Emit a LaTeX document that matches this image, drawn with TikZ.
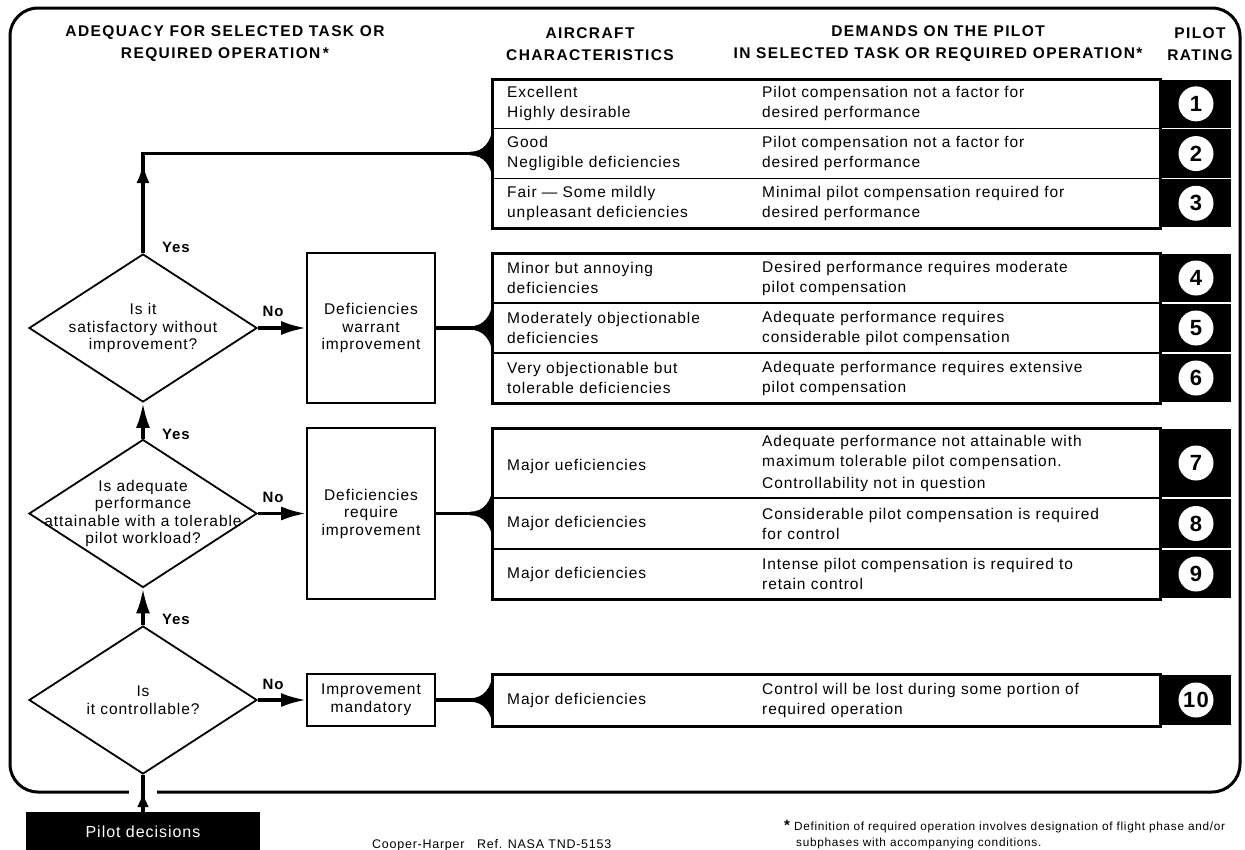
\documentclass[tikz,border=0pt]{standalone}
\usepackage{fontspec}
\setmainfont{Liberation Sans}[LetterSpace=6]
\newfontfamily\headfont{Liberation Sans}[LetterSpace=9]
\usepackage{tikz}
\usetikzlibrary{shapes, arrows, arrows.meta, positioning}

\begin{document}
\begin{tikzpicture}[x=1pt, y=-1pt, font=\fontsize{15.5}{20}\selectfont]
\tikzstyle{head} = [font=\headfont\bfseries\fontsize{15.5}{22}\selectfont, align=center, inner sep=0]
\tikzstyle{rowbox} = [rectangle, draw=black, line width=1.5pt, minimum width=668pt, inner sep=0, outer sep=0]
\tikzstyle{ratebox} = [rectangle, fill=black, draw=white, line width=1.5pt, minimum width=72pt, inner sep=0, outer sep=0]
\tikzstyle{ratenum} = [circle, fill=white, minimum size=35pt, inner sep=0, font=\bfseries\fontsize{22}{22}\selectfont]
\tikzstyle{celltext} = [align=left, inner sep=0]
\tikzstyle{question} = [diamond, draw=black, line width=1.8pt, minimum width=228pt, minimum height=148pt, inner sep=0]
\tikzstyle{qtext} = [align=center, inner sep=0, font=\fontsize{15.5}{17.5}\selectfont]
\tikzstyle{defbox} = [rectangle, draw=black, line width=1.8pt, minimum width=128pt, inner sep=0, align=center, font=\fontsize{15.5}{17.5}\selectfont]
\tikzstyle{decide} = [rectangle, fill=black, text=white, minimum width=234pt, minimum height=40pt, inner sep=0, font=\fontsize{16}{18}\selectfont]
\tikzstyle{grp} = [line width=3pt]
\tikzstyle{conn} = [line width=3.5pt]
\tikzstyle{arrow} = [line width=3.5pt, -{Latex[length=25pt, width=14pt]}]
\tikzstyle{yesno} = [font=\bfseries\fontsize{15}{15}\selectfont, inner sep=0]

\useasboundingbox (0,0) rectangle (1245,849);

% outer frame
\draw[grp, rounded corners=28pt] (10,8) rectangle (1240,792);
\fill[white] (129,785) rectangle (157,799);

% column heads
\node (hAdq) [head] at (225,44) {ADEQUACY FOR SELECTED TASK OR\\REQUIRED OPERATION\,*};
\node (hAir) [head] at (590,44) {AIRCRAFT\\CHARACTERISTICS};
\node (hDem) [head] at (938,44) {DEMANDS ON THE PILOT\\IN SELECTED TASK OR REQUIRED OPERATION*};
\node (hRat) [head] at (1200,44) {PILOT\\RATING};

% ratings 1-3
\node (r1) [rowbox, minimum height=49.7pt] at (826,103.85) {};
\node (r2) [rowbox, minimum height=49.7pt] at (826,153.55) {};
\node (r3) [rowbox, minimum height=49.7pt] at (826,203.25) {};
\node (a1) [celltext, right=15pt of r1.west] {Excellent\\Highly desirable};
\node (a2) [celltext, right=15pt of r2.west] {Good\\Negligible deficiencies};
\node (a3) [celltext, right=15pt of r3.west] {Fair — Some mildly\\unpleasant deficiencies};
\node (d1) [celltext, right=270pt of r1.west] {Pilot compensation not a factor for\\desired performance};
\node (d2) [celltext, right=270pt of r2.west] {Pilot compensation not a factor for\\desired performance};
\node (d3) [celltext, right=270pt of r3.west] {Minimal pilot compensation required for\\desired performance};
\node (p1) [ratebox, minimum height=49.7pt] at (1196,103.85) {};
\node (p2) [ratebox, minimum height=49.7pt] at (1196,153.55) {};
\node (p3) [ratebox, minimum height=49.7pt] at (1196,203.25) {};
\node (n1) [ratenum] at (p1) {1};
\node (n2) [ratenum] at (p2) {2};
\node (n3) [ratenum] at (p3) {3};
\draw[grp] (r1.north west) rectangle (r3.south east);

% ratings 4-6
\node (r4) [rowbox, minimum height=50pt] at (826,278) {};
\node (r5) [rowbox, minimum height=50pt] at (826,328) {};
\node (r6) [rowbox, minimum height=50pt] at (826,378) {};
\node (a4) [celltext, right=15pt of r4.west] {Minor but annoying\\deficiencies};
\node (a5) [celltext, right=15pt of r5.west] {Moderately objectionable\\deficiencies};
\node (a6) [celltext, right=15pt of r6.west] {Very objectionable but\\tolerable deficiencies};
\node (d4) [celltext, right=270pt of r4.west] {Desired performance requires moderate\\pilot compensation};
\node (d5) [celltext, right=270pt of r5.west] {Adequate performance requires\\considerable pilot compensation};
\node (d6) [celltext, right=270pt of r6.west] {Adequate performance requires extensive\\pilot compensation};
\node (p4) [ratebox, minimum height=50pt] at (1196,278) {};
\node (p5) [ratebox, minimum height=50pt] at (1196,328) {};
\node (p6) [ratebox, minimum height=50pt] at (1196,378) {};
\node (n4) [ratenum] at (p4) {4};
\node (n5) [ratenum] at (p5) {5};
\node (n6) [ratenum] at (p6) {6};
\draw[grp] (r4.north west) rectangle (r6.south east);

% ratings 7-9
\node (r7) [rowbox, minimum height=70pt] at (826,463) {};
\node (r8) [rowbox, minimum height=51pt] at (826,523.5) {};
\node (r9) [rowbox, minimum height=50pt] at (826,574) {};
\node (a7) [celltext, right=15pt of r7.west, yshift=-3pt] {Major ueficiencies};
\node (a8) [celltext, right=15pt of r8.west] {Major deficiencies};
\node (a9) [celltext, right=15pt of r9.west] {Major deficiencies};
\node (d7) [celltext, right=270pt of r7.west] {Adequate performance not attainable with\\maximum tolerable pilot compensation.\\[2pt]Controllability not in question};
\node (d8) [celltext, right=270pt of r8.west] {Considerable pilot compensation is required\\for control};
\node (d9) [celltext, right=270pt of r9.west] {Intense pilot compensation is required to\\retain control};
\node (p7) [ratebox, minimum height=70pt] at (1196,463) {};
\node (p8) [ratebox, minimum height=51pt] at (1196,523.5) {};
\node (p9) [ratebox, minimum height=50pt] at (1196,574) {};
\node (n7) [ratenum] at (p7) {7};
\node (n8) [ratenum] at (p8) {8};
\node (n9) [ratenum] at (p9) {9};
\draw[grp] (r7.north west) rectangle (r9.south east);

% rating 10
\node (r10) [rowbox, minimum height=52pt] at (826,700) {};
\node (a10) [celltext, right=15pt of r10.west] {Major deficiencies};
\node (d10) [celltext, right=270pt of r10.west] {Control will be lost during some portion of\\required operation};
\node (p10) [ratebox, minimum height=52pt] at (1196,700) {};
\node (n10) [ratenum] at (p10) {10};
\draw[grp] (r10.north west) rectangle (r10.south east);

% decision chain
\node (q1) [question] at (143,328) {};
\node (q2) [question] at (143,513.5) {};
\node (q3) [question] at (143,700) {};
\node (q1t) [qtext] at (q1) {Is it\\satisfactory without\\improvement?};
\node (q2t) [qtext] at (q2) {Is adequate\\performance\\attainable with a tolerable\\pilot workload?};
\node (q3t) [qtext] at (q3) {Is\\it controllable?};
\node (def1) [defbox, minimum height=150pt] at (371,328) {Deficiencies\\warrant\\improvement};
\node (def2) [defbox, minimum height=171pt] at (371,513.5) {Deficiencies\\require\\improvement};
\node (imp) [defbox, minimum height=52pt] at (371,700) {Improvement\\mandatory};
\node (pilot) [decide] at (143,832) {Pilot decisions};

\coordinate (jA) at (r2.west);
\coordinate (jB) at (r5.west);
\coordinate (jC) at (492,513.5);
\coordinate (jD) at (r10.west);
\coordinate (cA) at (143,153.55);
\coordinate (tA) at (143,163);
\coordinate (tP) at (143,792);

\draw[conn] (q1.north) -- (cA) -- (jA);
\draw[line width=3.5pt, -{Latex[length=20pt, width=13pt]}] (q1.north) -- (tA);
\draw[arrow] (q2.north) -- (q1.south);
\draw[arrow] (q3.north) -- (q2.south);
\draw[conn] (pilot.north) -- (q3.south);
\draw[line width=3.5pt, -{Latex[length=15pt, width=12pt]}] (pilot.north) -- (tP);

\draw[arrow] (q1.east) -- (def1.west);
\draw[arrow] (q2.east) -- (def2.west);
\draw[arrow] (q3.east) -- (imp.west);
\draw[conn] (def1.east) -- (jB);
\draw[conn] (def2.east) -- (jC);
\draw[conn] (imp.east) -- (jD);

% braces into the tables
\foreach \j in {jA, jB, jC, jD}
  \fill ([shift={(-22,-1.75)}]\j) .. controls ([shift={(-8,-1.75)}]\j) and ([shift={(-1,-12)}]\j) .. ([shift={(1,-27)}]\j)
     -- ([shift={(1,27)}]\j) .. controls ([shift={(-1,12)}]\j) and ([shift={(-8,1.75)}]\j) .. ([shift={(-22,1.75)}]\j) -- cycle;

\node (y1) [yesno] at (176,247) {Yes};
\node (y2) [yesno] at (176,434) {Yes};
\node (y3) [yesno] at (176,619) {Yes};
\node (no1) [yesno] at (273,311) {No};
\node (no2) [yesno] at (273,497) {No};
\node (no3) [yesno] at (273,684) {No};

% notes
\node (ref) [anchor=west, inner sep=0, font=\fontsize{12.5}{16}\selectfont] at (372,845) {Cooper-Harper\quad Ref. NASA TND-5153};
\node (note) [anchor=north west, align=left, inner sep=0, font=\fontsize{11.8}{16}\selectfont] at (784,820) {{\bfseries\fontsize{15}{16}\selectfont *} Definition of required operation involves designation of flight phase and/or\\\hspace{12pt}subphases with accompanying conditions.};

\end{tikzpicture}
\end{document}
